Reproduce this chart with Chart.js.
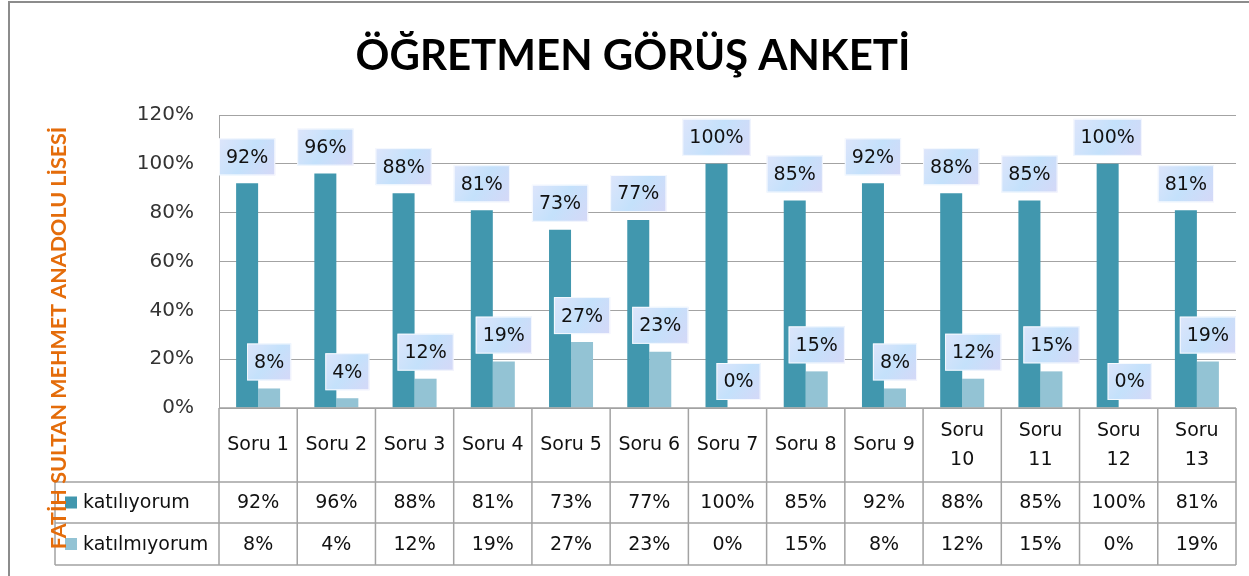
<!DOCTYPE html>
<html>
<head>
<meta charset="utf-8">
<script src="https://cdn.jsdelivr.net/npm/chart.js@4.4.1/dist/chart.umd.min.js"></script>
<style>
  html, body { margin: 0; padding: 0; background: #fff; }
  canvas { display: block; }
</style>
</head>
<body>
<canvas id="surveyChart" width="1249" height="576"></canvas>
<script>
// Öğretmen görüş anketi verileri (yüzde)
const questions = ['Soru 1', 'Soru 2', 'Soru 3', 'Soru 4', 'Soru 5', 'Soru 6', 'Soru 7',
    'Soru 8', 'Soru 9', 'Soru 10', 'Soru 11', 'Soru 12', 'Soru 13'];
const agree = [92, 96, 88, 81, 73, 77, 100, 85, 92, 88, 85, 100, 81];
const disagree = [8, 4, 12, 19, 27, 23, 0, 15, 8, 12, 15, 0, 19];
const seriesNames = ['katılıyorum', 'katılmıyorum'];
const seriesColors = ['#4197ae', '#93c3d4'];
const yTicks = [0, 20, 40, 60, 80, 100, 120];

const chartTitle = 'ÖĞRETMEN GÖRÜŞ ANKETİ';
const axisTitle = 'FATİH SULTAN MEHMET ANADOLU LİSESİ';

const cellFont = '19px "DejaVu Sans"';
const lineColor = '#a3a3a3';

// title, data labels, data table, side title
const decorPlugin = {
    id: 'decor',
    afterDraw(chart) {
        const ctx = chart.ctx;
        const area = chart.chartArea;
        const x = chart.scales.x;
        const step = (area.right - area.left) / questions.length;

        ctx.save();

        // outer frame
        ctx.strokeStyle = '#8c8c8c';
        ctx.lineWidth = 2;
        ctx.strokeRect(9, 2, 1400, 800);

        // title
        ctx.fillStyle = '#000';
        ctx.font = 'bold 42px Lato';
        ctx.textAlign = 'center';
        ctx.textBaseline = 'middle';
        ctx.fillText(chartTitle, 633, 56);

        // data labels
        ctx.font = cellFont;
        chart.data.datasets.forEach((ds, di) => {
            chart.getDatasetMeta(di).data.forEach((bar, i) => {
                const txt = ds.data[i] + '%';
                const w = ctx.measureText(txt).width + 14;
                const h = 37;
                const bx = bar.x - w / 2;
                const by = bar.y - 8 - h;
                const g = ctx.createLinearGradient(bx, by, bx + w, by + h);
                g.addColorStop(0, '#dde5fb');
                g.addColorStop(0.5, '#c4e1fb');
                g.addColorStop(1, '#d5d8f7');
                ctx.fillStyle = g;
                ctx.fillRect(bx, by, w, h);
                ctx.strokeStyle = 'rgba(255,255,255,0.8)';
                ctx.lineWidth = 1;
                ctx.strokeRect(bx + 0.5, by + 0.5, w - 1, h - 1);
                ctx.fillStyle = '#111';
                ctx.fillText(txt, bar.x, by + h / 2 + 1);
            });
        });

        // data table
        const top = area.bottom;
        const r1 = 482, r2 = 523, bottom = 565, tableLeft = 55;
        ctx.strokeStyle = lineColor;
        ctx.lineWidth = 1.5;
        ctx.beginPath();
        ctx.moveTo(area.left, top); ctx.lineTo(area.right, top);
        [r1, r2, bottom].forEach(yy => { ctx.moveTo(tableLeft, yy); ctx.lineTo(area.right, yy); });
        ctx.moveTo(tableLeft, r1); ctx.lineTo(tableLeft, bottom);
        for (let i = 0; i <= questions.length; i++) {
            const cx = area.left + i * step;
            ctx.moveTo(cx, top); ctx.lineTo(cx, bottom);
        }
        ctx.stroke();

        ctx.fillStyle = '#111';
        ctx.textAlign = 'center';
        questions.forEach((q, i) => {
            const cx = x.getPixelForValue(i);
            if (ctx.measureText(q).width > step - 6) {
                const parts = q.split(' ');
                ctx.fillText(parts[0], cx, 431);
                ctx.fillText(parts[1], cx, 460);
            } else {
                ctx.fillText(q, cx, 445);
            }
            ctx.fillText(agree[i] + '%', cx, (r1 + r2) / 2 + 1);
            ctx.fillText(disagree[i] + '%', cx, (r2 + bottom) / 2 + 1);
        });

        // row legend
        ctx.textAlign = 'left';
        [[r1, r2], [r2, bottom]].forEach(([a, b], k) => {
            const cy = (a + b) / 2;
            ctx.fillStyle = seriesColors[k];
            ctx.fillRect(65, cy - 6, 12, 12);
            ctx.fillStyle = '#111';
            ctx.fillText(seriesNames[k], 83, cy + 1);
        });

        // side title
        ctx.translate(59, 338);
        ctx.rotate(-Math.PI / 2);
        ctx.textAlign = 'center';
        ctx.fillStyle = '#e46c0a';
        ctx.font = 'bold 21.5px Lato';
        ctx.fillText(axisTitle, 0, 0);

        ctx.restore();
    }
};

new Chart(document.getElementById('surveyChart'), {
    type: 'bar',
    data: {
        labels: questions,
        datasets: [{
            label: seriesNames[0],
            data: agree,
            backgroundColor: seriesColors[0]
        }, {
            label: seriesNames[1],
            data: disagree,
            backgroundColor: seriesColors[1]
        }]
    },
    options: {
        responsive: false,
        animation: false,
        categoryPercentage: 0.5625,
        barPercentage: 1,
        layout: {
            padding: { top: 115, bottom: 168, left: 0, right: 13 }
        },
        scales: {
            x: { display: false },
            y: {
                min: 0,
                max: 120,
                afterBuildTicks: scale => { scale.ticks = yTicks.map(v => ({ value: v })); },
                afterFit: scale => { scale.width = 219; },
                ticks: {
                    callback: v => v + '%',
                    font: { family: 'DejaVu Sans', size: 20 },
                    color: '#333',
                    padding: 25
                },
                grid: { color: lineColor, drawTicks: false },
                border: { color: lineColor }
            }
        },
        plugins: {
            legend: { display: false },
            tooltip: { enabled: false }
        }
    },
    plugins: [decorPlugin]
});
</script>
</body>
</html>
